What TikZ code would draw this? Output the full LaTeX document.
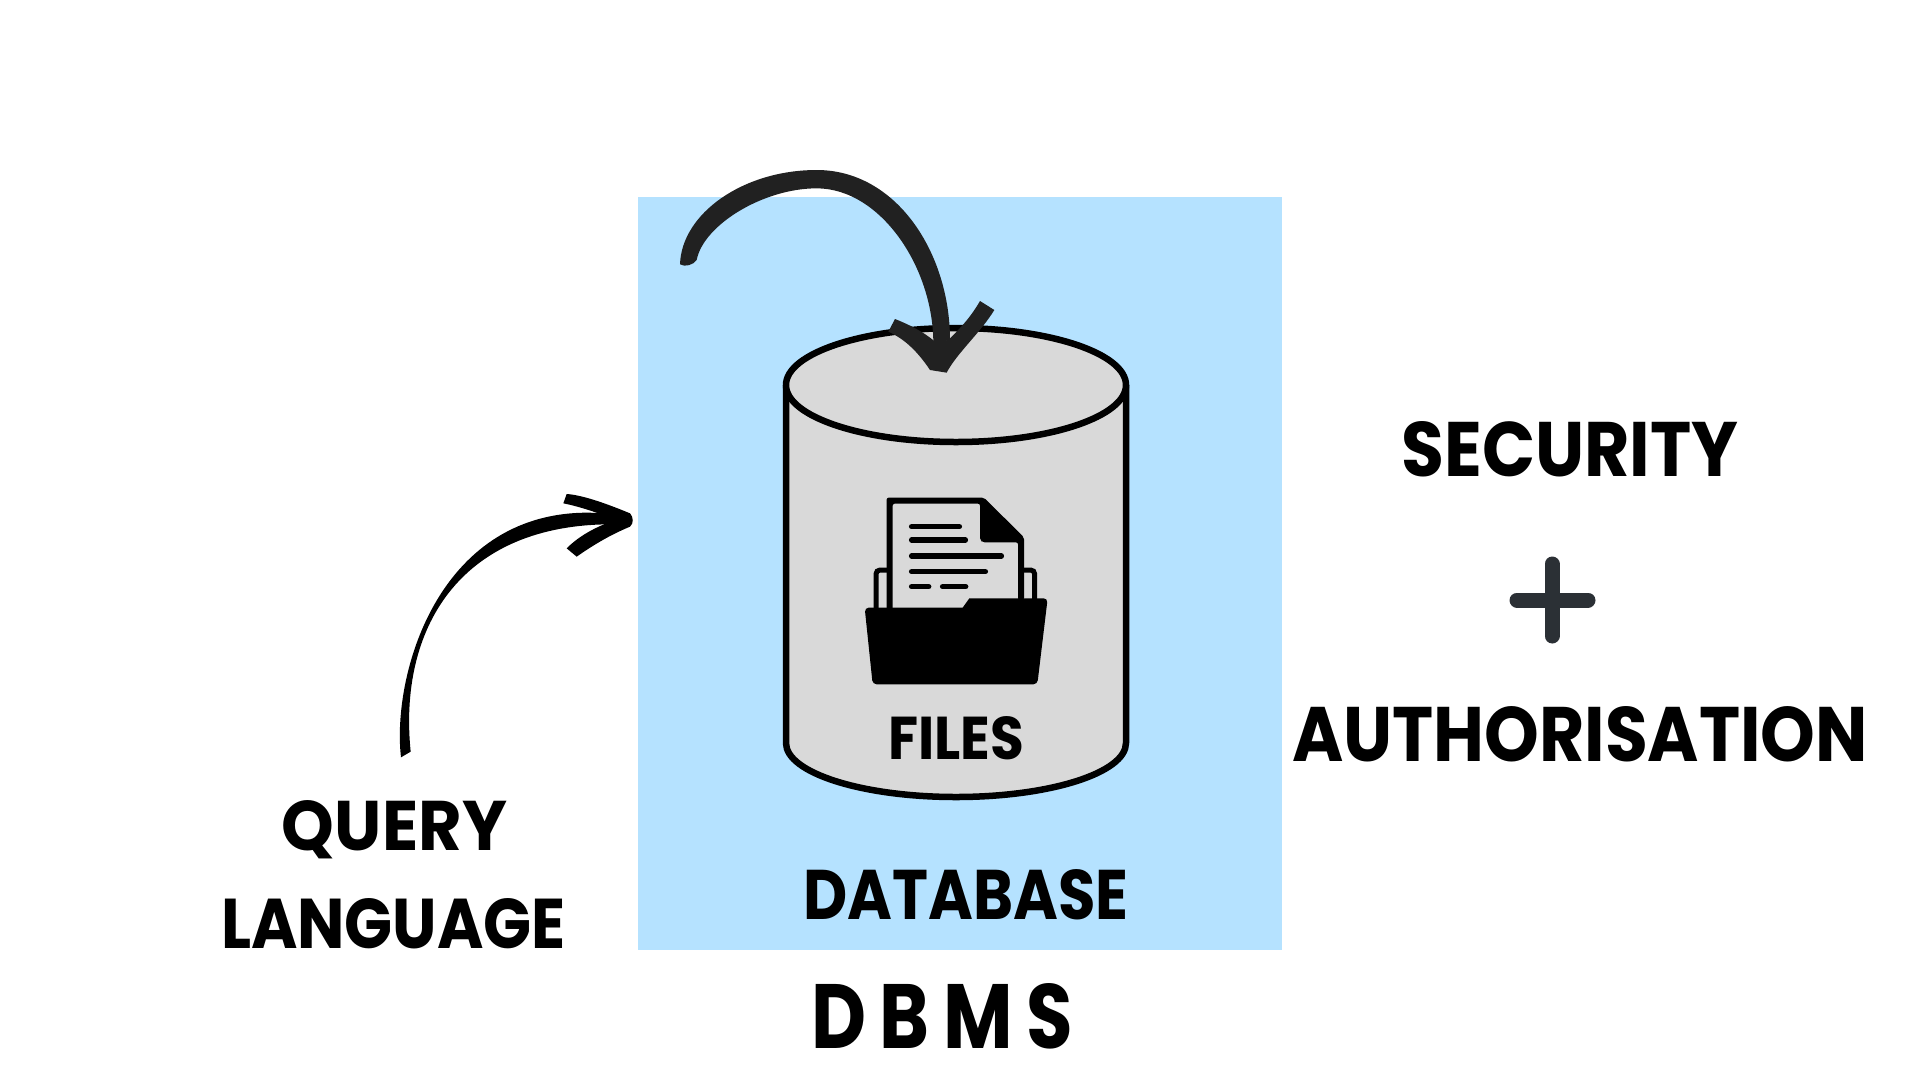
\documentclass[tikz,border=0pt]{standalone}
\usepackage{fontspec}
\setmainfont{Poppins}
\definecolor{skyfill}{HTML}{B5E2FF}
\definecolor{drumfill}{HTML}{D9D9D9}
\definecolor{arrowink}{HTML}{212121}
\definecolor{plusink}{HTML}{2B3035}
\newcommand{\capsfit}[3]{\resizebox{#1pt}{#2pt}{\fontsize{60pt}{60pt}\selectfont\bfseries #3}}
\tikzset{
  lbl/.style={inner sep=0pt,outer sep=0pt,anchor=base,text=black},
  drumline/.style={draw=black,line width=6.5pt},
  docline/.style={draw=black,line width=5.5pt,line cap=round},
}
\begin{document}
\begin{tikzpicture}[x=1pt,y=-1pt]
\useasboundingbox (0,0) rectangle (1920,1080);
\fill[white] (0,0) rectangle (1920,1080);
\node[fill=skyfill,minimum width=644pt,minimum height=753pt,inner sep=0pt,outer sep=0pt] (panel) at (960,573.5) {};
% cylinder
\path[fill=drumfill] (786,385) -- (786,743) arc[start angle=180,end angle=360,x radius=170pt,y radius=54pt] -- (1126,385) -- cycle;
\draw[drumline,line join=round] (786,385) -- (786,743) arc[start angle=180,end angle=360,x radius=170pt,y radius=54pt] -- (1126,385);
\draw[drumline,fill=drumfill] (956,385) ellipse[x radius=170pt,y radius=57pt];
% folder icon
\begin{scope}[shift={(760,300)},x=0.33333pt,y=-0.33333pt]
 \draw[draw=black,line width=5pt,rounded corners=4pt] (348,930) -- (348,810) -- (385,810);
 \draw[draw=black,line width=5pt,rounded corners=4pt] (785,810) -- (824,810) -- (824,900);
 \fill[black,rounded corners=2pt] (380,930) -- (380,593) -- (672,593) -- (792,712) -- (792,900) -- (774,900) -- (774,727) -- (668,727) -- (660,720) -- (660,611) -- (398,611) -- (398,930) -- cycle;
 \fill[black] (608,923) -- (628,895) [rounded corners=4pt] -- (863,895) -- (832,1153) -- (338,1153) -- (314,923) [sharp corners] -- (608,923) -- cycle;
 \foreach \ya/\xa/\xb in {680/455/598,720/455/616,768/455/724,815/455/676,860/455/506,860/548/617}
   \draw[docline] (\xa,\ya) -- (\xb,\ya);
\end{scope}
% top arrow
\begin{scope}[shift={(640,150)},x=0.33333pt,y=-0.33333pt]
 \coordinate (topstart) at (145,345);
 \coordinate (toptip) at (895,665);
 \fill[arrowink] (120,343) .. controls (125,190) and (310,60) .. (530,60) .. controls (770,60) and (930,310) .. (930,570)
   -- (880,580) .. controls (880,350) and (720,115) .. (530,115) .. controls (370,115) and (190,225) .. (170,330)
   .. controls (160,345) and (135,352) .. (120,343) -- cycle;
 \fill[arrowink] (765,507) -- (745,545) .. controls (790,565) and (830,600) .. (870,660) -- (920,668) .. controls (950,610) and (1020,550) .. (1063,480) -- (1020,453) .. controls (990,505) and (960,535) .. (925,570) -- (885,575) .. controls (850,545) and (810,525) .. (765,507) -- cycle;
\end{scope}
% left arrow
\begin{scope}[shift={(200,470)},x=0.33333pt,y=-0.33333pt]
 \coordinate (qstart) at (617,858);
 \coordinate (qend) at (1295,148);
 \fill[black] (603,862) .. controls (575,620) and (710,130) .. (1160,128)
   -- (1280,130) -- (1295,150) -- (1280,160) -- (1220,163)
   .. controls (775,170) and (595,480) .. (632,845) -- cycle;
 \fill[black] (1100,72) .. controls (1150,75) and (1230,105) .. (1290,130) .. controls (1300,140) and (1302,160) .. (1290,170) .. controls (1230,195) and (1180,225) .. (1130,260) -- (1100,235) .. controls (1140,195) and (1190,170) .. (1245,150) .. controls (1200,130) and (1140,110) .. (1090,100) -- cycle;
\end{scope}
% plus
\coordinate (pluscentre) at (1552,600);
\draw[plusink,line width=15pt,line cap=round] (1517,600) -- (1588,600);
\draw[plusink,line width=15pt,line cap=round] (1552,564) -- (1552,636);
% labels
\node[lbl] (security) at (1570,476) {\capsfit{337}{55}{SECURITY}};
\node[lbl] (auth) at (1580,761) {\capsfit{576}{55}{AUTHORISATION}};
\node[lbl] (query) at (394.5,850) {\capsfit{225}{50}{QUERY}};
\node[lbl] (language) at (393.5,948) {\capsfit{345}{50}{LANGUAGE}};
\node[lbl] (database) at (966,919) {\capsfit{325}{50}{DATABASE}};
\node[lbl] (dbms) at (942,1048) {\capsfit{262}{65}{\addfontfeature{LetterSpace=18}DBMS}};
\node[lbl] (files) at (956,759) {\capsfit{136}{43}{FILES}};
\end{tikzpicture}
\end{document}
